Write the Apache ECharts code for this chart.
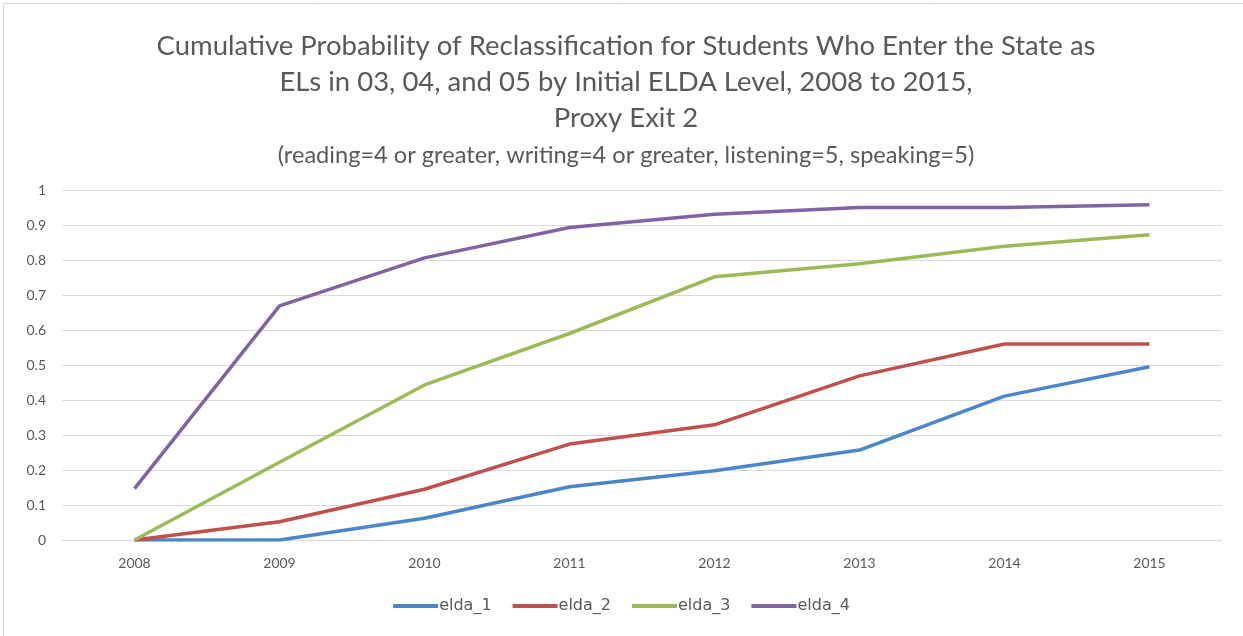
<!DOCTYPE html>
<html>
<head>
<meta charset="utf-8">
<script src="https://cdn.jsdelivr.net/npm/echarts@6/dist/echarts.min.js"></script>
<style>
html,body{margin:0;padding:0;background:#fff;}
#c{width:1243px;height:636px;}
</style>
</head>
<body>
<div id="c"></div>
<script>
const years = ['2008','2009','2010','2011','2012','2013','2014','2015'];
const elda_1 = [0, 0, 0.062, 0.152, 0.198, 0.257, 0.411, 0.495];
const elda_2 = [0, 0.052, 0.145, 0.274, 0.329, 0.469, 0.56, 0.56];
const elda_3 = [0, 0.222, 0.443, 0.59, 0.752, 0.789, 0.839, 0.872];
const elda_4 = [0.147, 0.669, 0.806, 0.893, 0.931, 0.95, 0.95, 0.958];
const seriesNames = ['elda_1','elda_2','elda_3','elda_4'];
const seriesData = [elda_1, elda_2, elda_3, elda_4];
const colors = ['#4A86C8', '#C0504D', '#9BBB59', '#8064A2'];

const chart = echarts.init(document.getElementById('c'));
const txt = '#595959';
const ff = 'Lato';
chart.setOption({
  animation: false,
  color: colors,
  graphic: [{
    type: 'rect', left: 1, top: 1,
    shape: {width: 1240, height: 633},
    style: {fill: 'none', stroke: '#d9d9d9', lineWidth: 1}
  }],
  title: [{
    text: 'Cumulative Probability of Reclassification for Students Who Enter the State as\nELs in 03, 04, and 05 by Initial ELDA Level, 2008 to 2015,\nProxy Exit 2',
    left: 621, top: 23,
    textAlign: 'center',
    textStyle: {fontFamily: ff, fontWeight: 'normal', fontSize: 27.5, color: txt, lineHeight: 36}
  }, {
    text: '(reading=4 or greater, writing=4 or greater, listening=5, speaking=5)',
    left: 621, top: 138, textAlign: 'center',
    textStyle: {fontFamily: ff, fontWeight: 'normal', fontSize: 23.6, color: txt}
  }],
  legend: {
    bottom: 17, left: 'center',
    icon: 'rect', itemWidth: 45, itemHeight: 4, itemGap: 21,
    textStyle: {fontFamily: "'DejaVu Sans'", fontSize: 16, color: txt, padding: [0,0,0,-4]},
    data: seriesNames
  },
  grid: {left: 62, right: 21, top: 190, bottom: 96},
  xAxis: {
    type: 'category', data: years, boundaryGap: true,
    axisLine: {lineStyle: {color: '#d9d9d9'}},
    axisTick: {show: false},
    axisLabel: {color: txt, fontFamily: ff, fontSize: 14, margin: 16}
  },
  yAxis: {
    type: 'value', min: 0, max: 1, interval: 0.1,
    axisLine: {show: false}, axisTick: {show: false},
    splitLine: {lineStyle: {color: '#d9d9d9'}},
    axisLabel: {color: txt, fontFamily: ff, fontSize: 14, margin: 16,
      formatter: v => (v === 0 ? '0' : (v === 1 ? '1' : v.toFixed(1)))}
  },
  series: seriesNames.map((n, i) => ({
    name: n, type: 'line', data: seriesData[i],
    showSymbol: false, symbol: 'none',
    lineStyle: {width: 3.5, color: colors[i]},
    itemStyle: {color: colors[i]}
  }))
});
</script>
</body>
</html>
